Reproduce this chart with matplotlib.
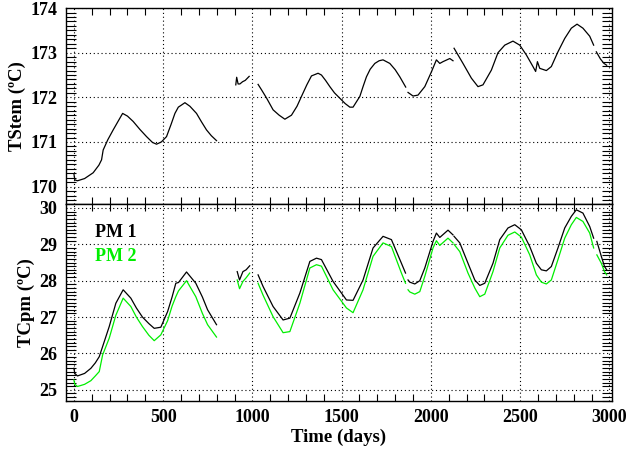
import matplotlib
matplotlib.use('Agg')
import matplotlib.pyplot as plt
from matplotlib.ticker import MultipleLocator

plt.rcParams['font.family'] = ['Liberation Serif', 'DejaVu Serif']
plt.rcParams['font.weight'] = 'bold'

# TStem, one list per data segment (gaps between them)
stem_t = [
    [0, 5, 20, 60, 108, 140, 155, 164, 190, 220, 250, 273, 300, 332, 370, 407, 440, 463, 490, 519, 545, 566, 585, 600, 622, 650, 687, 715, 743, 770, 799],
    [907, 912, 920, 930, 945, 960, 982],
    [1032, 1051, 1080, 1116, 1150, 1182, 1219, 1250, 1275, 1305, 1331, 1368, 1387, 1410, 1434, 1460, 1490, 1520, 1546, 1564, 1602, 1620, 1639, 1660, 1686, 1710, 1732, 1770, 1800, 1826, 1859],
    [1872, 1900, 1928, 1966, 2003, 2031, 2050, 2068, 2106, 2124],
    [2130, 2180, 2227, 2264, 2292, 2339, 2376, 2414, 2460, 2498, 2535, 2572, 2587, 2597, 2610, 2647, 2675, 2712, 2750, 2787, 2819, 2852, 2890, 2912],
    [2927, 2950, 2970, 2985],
]
stem_v = [
    [170.29, 170.15, 170.13, 170.18, 170.31, 170.48, 170.6, 170.82, 171.05, 171.27, 171.48, 171.64, 171.58, 171.46, 171.28, 171.12, 170.99, 170.95, 171.0, 171.12, 171.4, 171.64, 171.78, 171.82, 171.88, 171.8, 171.64, 171.45, 171.27, 171.14, 171.03],
    [172.28, 172.45, 172.30, 172.30, 172.35, 172.38, 172.47],
    [172.29, 172.17, 171.98, 171.72, 171.6, 171.51, 171.6, 171.8, 172.02, 172.28, 172.48, 172.54, 172.50, 172.38, 172.24, 172.1, 171.98, 171.86, 171.78, 171.78, 172.02, 172.24, 172.46, 172.63, 172.76, 172.82, 172.84, 172.76, 172.62, 172.46, 172.23],
    [172.11, 172.03, 172.05, 172.24, 172.57, 172.84, 172.76, 172.80, 172.87, 172.82],
    [173.10, 172.76, 172.43, 172.24, 172.28, 172.61, 173.0, 173.17, 173.26, 173.17, 172.95, 172.69, 172.58, 172.80, 172.65, 172.60, 172.69, 173.02, 173.32, 173.55, 173.64, 173.55, 173.37, 173.17],
    [173.02, 172.86, 172.76, 172.72],
]

# TCpm for the two PMs, same segments
pm_t = [
    [0, 5, 20, 60, 95, 120, 142, 161, 198, 235, 276, 319, 350, 384, 420, 450, 487, 525, 550, 571, 586, 631, 683, 720, 749, 799],
    [915, 928, 947, 965, 985],
    [1032, 1060, 1116, 1172, 1210, 1266, 1322, 1359, 1387, 1452, 1527, 1564, 1620, 1676, 1732, 1779, 1835, 1858],
    [1872, 1882, 1910, 1938, 1966, 2012, 2031, 2050, 2096, 2124],
    [2130, 2162, 2208, 2246, 2274, 2302, 2348, 2386, 2432, 2470, 2507, 2554, 2591, 2619, 2647, 2675, 2712, 2750, 2787, 2815, 2852, 2890, 2912],
    [2930, 2955, 2973, 2985],
]
pm1_v = [
    [25.59, 25.45, 25.38, 25.45, 25.59, 25.74, 25.91, 26.19, 26.74, 27.38, 27.75, 27.52, 27.25, 27.0, 26.82, 26.69, 26.72, 27.15, 27.55, 27.93, 27.95, 28.24, 27.93, 27.55, 27.20, 26.79],
    [28.25, 28.02, 28.25, 28.3, 28.41],
    [28.16, 27.84, 27.29, 26.92, 26.97, 27.66, 28.53, 28.62, 28.58, 27.98, 27.47, 27.46, 28.02, 28.90, 29.22, 29.13, 28.48, 28.21],
    [28.02, 27.96, 27.91, 28.0, 28.35, 29.08, 29.31, 29.19, 29.39, 29.26],
    [29.22, 29.04, 28.48, 28.02, 27.87, 27.93, 28.48, 29.13, 29.45, 29.54, 29.40, 28.94, 28.48, 28.30, 28.27, 28.39, 28.90, 29.45, 29.77, 29.95, 29.86, 29.49, 29.17],
    [29.08, 28.67, 28.39, 28.3],
]
pm2_v = [
    [25.27, 25.15, 25.09, 25.15, 25.25, 25.38, 25.50, 25.96, 26.42, 27.05, 27.52, 27.29, 27.0, 26.74, 26.5, 26.35, 26.51, 26.9, 27.3, 27.56, 27.72, 28.0, 27.56, 27.1, 26.79, 26.45],
    [28.02, 27.78, 27.98, 28.08, 28.21],
    [27.93, 27.6, 27.01, 26.57, 26.6, 27.38, 28.35, 28.44, 28.40, 27.75, 27.25, 27.12, 27.75, 28.67, 29.04, 28.94, 28.21, 27.93],
    [27.75, 27.69, 27.63, 27.7, 28.12, 28.90, 29.10, 28.97, 29.17, 29.04],
    [29.0, 28.80, 28.21, 27.80, 27.56, 27.63, 28.25, 28.90, 29.25, 29.34, 29.20, 28.71, 28.16, 27.96, 27.91, 28.02, 28.58, 29.17, 29.54, 29.74, 29.63, 29.31, 28.90],
    [28.71, 28.48, 28.25, 28.16],
]

fig = plt.figure(figsize=(6.28, 4.5), dpi=100)
ax1 = fig.add_axes([0.1046, 0.5467, 0.8694, 0.4353])
ax2 = fig.add_axes([0.1046, 0.1096, 0.8694, 0.4371])

for t, v in zip(stem_t, stem_v):
    ax1.plot(t, v, color='black', lw=0.9)
for t, v1, v2 in zip(pm_t, pm1_v, pm2_v):
    ax2.plot(t, v2, color='#00ee00', lw=0.9)
    ax2.plot(t, v1, color='black', lw=0.9)

for ax in (ax1, ax2):
    ax.set_xlim(-46, 3013)
    ax.xaxis.set_major_locator(MultipleLocator(500))
    ax.xaxis.set_minor_locator(MultipleLocator(100))
    ax.yaxis.set_major_locator(MultipleLocator(1))
    ax.yaxis.set_minor_locator(MultipleLocator(0.1))
    ax.grid(True, which='major', linestyle=(0, (1, 2.5)), color='black', lw=0.8)
    ax.tick_params(which='major', length=0, labelsize=13, pad=6)
    ax.tick_params(which='minor', direction='in', length=5, width=0.8)
    ax.tick_params(axis='y', which='minor', length=7)
    ax.tick_params(which='both', top=True, right=True)
    for s in ax.spines.values():
        s.set_linewidth(1.0)

ax1.set_ylim(169.61, 174.0)
ax1.set_xticklabels([])
ax1.set_ylabel('TStem (ºC)', fontsize=13.5, fontweight='bold')
ax1.yaxis.set_label_coords(-0.072, 0.5)

ax2.set_ylim(24.7, 30.11)
ax2.set_ylabel('TCpm (ºC)', fontsize=13.5, fontweight='bold')
ax2.yaxis.set_label_coords(-0.056, 0.5)
ax2.set_xlabel('Time (days)', fontsize=13.5, fontweight='bold', labelpad=2)

ax2.text(118, 29.32, 'PM 1', color='black', fontsize=13, fontweight='bold', va='center')
ax2.text(118, 28.66, 'PM 2', color='#00ee00', fontsize=13, fontweight='bold', va='center')

fig.savefig('out.png', dpi=100)
